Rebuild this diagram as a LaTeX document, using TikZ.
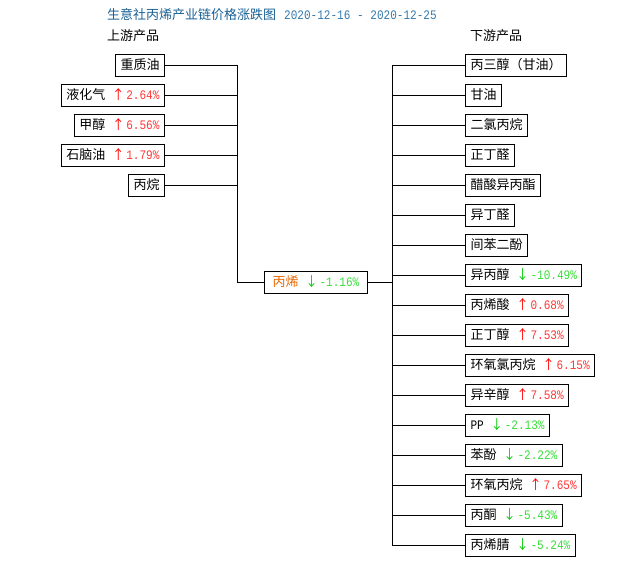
\documentclass[tikz,border=0pt]{standalone}
\usepackage{fontspec}
\setmainfont{Noto Sans CJK SC}
\newfontfamily\numfamily[FakeStretch=0.85]{Liberation Mono}
\usetikzlibrary{positioning}
\definecolor{titleblue}{RGB}{24,96,150}
\definecolor{dateblue}{RGB}{52,122,172}
\definecolor{uparrow}{RGB}{255,0,0}
\definecolor{uptext}{RGB}{255,55,55}
\definecolor{dnarrow}{RGB}{0,200,0}
\definecolor{dntext}{RGB}{55,222,55}
\definecolor{propene}{RGB}{232,102,0}
\newcommand{\numfont}{\numfamily\fontsize{13}{13}\selectfont}
\newcommand{\upval}[1]{\hspace{6.5pt}{\color{uparrow}↑}\hspace{1.5pt}{\numfont\color{uptext}#1\%}}
\newcommand{\dnval}[1]{\hspace{6.5pt}{\color{dnarrow}↓}\hspace{1.5pt}{\numfont\color{dntext}#1\%}}
\tikzset{
    plaintext/.style={inner sep=0pt, font=\fontsize{13}{15}\selectfont},
    pbox/.style={draw=black, line width=1pt, minimum height=22pt, inner xsep=5pt, inner ysep=0pt, font=\fontsize{13}{15}\selectfont},
    centerbox/.style={pbox, inner xsep=8pt},
    link/.style={draw=black, line width=1pt}
}

\begin{document}
\begin{tikzpicture}[x=1pt,y=-1pt]
        \useasboundingbox (0,0) rectangle (630,565);
        % title and column heads
        \node[plaintext, anchor=west, text=titleblue] (title) at (107,15) {生意社丙烯产业链价格涨跌图\hspace{8pt}{\numfont\color{dateblue}2020-12-16 - 2020-12-25}};
        \node[plaintext, anchor=west] (uphead) at (107,36) {上游产品};
        \node[plaintext, anchor=west] (dnhead) at (470,36) {下游产品};

        % upstream
        \node[pbox, anchor=east] (u1) at (165,65) {重质油};
        \node[pbox, anchor=east] (u2) at (165,95) {液化气\upval{2.64}};
        \node[pbox, anchor=east] (u3) at (165,125) {甲醇\upval{6.56}};
        \node[pbox, anchor=east] (u4) at (165,155) {石脑油\upval{1.79}};
        \node[pbox, anchor=east] (u5) at (165,185) {丙烷};

        % propene
        \node[centerbox, anchor=west] (c) at (264,282) {{\color{propene}丙烯}\dnval{-1.16}};
        \coordinate (lbus) at (237,282);
        \coordinate (rbus) at (392,282);

        % downstream
        \node[pbox, anchor=west] (d1) at (465,65) {丙三醇（甘油）};
        \node[pbox, anchor=west] (d2) at (465,95) {甘油};
        \node[pbox, anchor=west] (d3) at (465,125) {二氯丙烷};
        \node[pbox, anchor=west] (d4) at (465,155) {正丁醛};
        \node[pbox, anchor=west] (d5) at (465,185) {醋酸异丙酯};
        \node[pbox, anchor=west] (d6) at (465,215) {异丁醛};
        \node[pbox, anchor=west] (d7) at (465,245) {间苯二酚};
        \node[pbox, anchor=west] (d8) at (465,275) {异丙醇\dnval{-10.49}};
        \node[pbox, anchor=west] (d9) at (465,305) {丙烯酸\upval{0.68}};
        \node[pbox, anchor=west] (d10) at (465,335) {正丁醇\upval{7.53}};
        \node[pbox, anchor=west] (d11) at (465,365) {环氧氯丙烷\upval{6.15}};
        \node[pbox, anchor=west] (d12) at (465,395) {异辛醇\upval{7.58}};
        \node[pbox, anchor=west] (d13) at (465,425) {{\numfont PP}\dnval{-2.13}};
        \node[pbox, anchor=west] (d14) at (465,455) {苯酚\dnval{-2.22}};
        \node[pbox, anchor=west] (d15) at (465,485) {环氧丙烷\upval{7.65}};
        \node[pbox, anchor=west] (d16) at (465,515) {丙酮\dnval{-5.43}};
        \node[pbox, anchor=west] (d17) at (465,545) {丙烯腈\dnval{-5.24}};

        % connectors
        \foreach \n in {u1,u2,u3,u4,u5}
            \draw[link] (\n.east) -- (\n.east -| lbus);
        \draw[link] (u1.east -| lbus) -- (lbus) -- (c.west);
        \draw[link] (c.east) -- (rbus);
        \draw[link] (d1.west -| rbus) -- (d17.west -| rbus);
        \foreach \i in {1,...,17}
            \draw[link] (d\i.west -| rbus) -- (d\i.west);
    \end{tikzpicture}
\end{document}
